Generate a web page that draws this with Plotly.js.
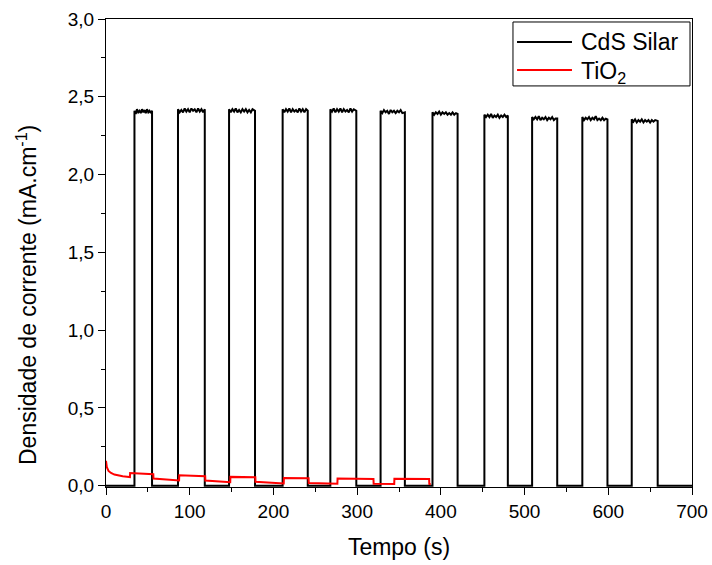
<!DOCTYPE html>
<html>
<head>
<meta charset="utf-8">
<script src="https://cdn.plot.ly/plotly-3.0.1.min.js"></script>
<style>html,body{margin:0;padding:0;background:#fff;}#chart{width:712px;height:565px;}</style>
</head>
<body>
<div id="chart"></div>
<script>
// CdS Silar photocurrent (time in s, current density)
const cdsTime = [
  0, 34, 34, 35.5, 37, 38.5, 40, 41.5, 43, 44.5, 46, 47.5, 49, 50.5, 52, 53.5, 55, 55,
  86, 86, 88, 90, 92, 94, 96, 98, 100, 102, 104, 106, 108, 110, 112, 114, 116, 118, 118,
  147, 147, 149, 151, 153, 155, 157, 159, 161, 163, 165, 167, 169, 171, 173, 175, 178, 178,
  211, 211, 213, 215, 217, 219, 221, 223, 225, 227, 229, 231, 233, 235, 237, 239, 241, 241,
  268, 268, 270, 272, 274, 276, 278, 280, 282, 284, 286, 288, 290, 292, 294, 296, 299, 299,
  328, 328, 330, 332, 334, 336, 338, 340, 342, 344, 346, 348, 350, 352, 354, 357, 357,
  390, 390, 392, 394, 396, 398, 400, 402, 404, 406, 408, 410, 412, 414, 416, 418, 420, 420,
  452, 452, 454, 456, 458, 460, 462, 464, 466, 468, 470, 472, 474, 476, 478, 480, 480,
  509, 509, 511, 513, 515, 517, 519, 521, 523, 525, 527, 529, 531, 533, 535, 537, 539, 539,
  569, 569, 571, 573, 575, 577, 579, 581, 583, 585, 587, 589, 591, 593, 595, 597, 599, 599,
  628, 628, 630, 632, 634, 636, 638, 640, 642, 644, 646, 648, 650, 652, 654, 656, 659, 659,
  700
];
const cdsCurrent = [
  0, 0, 2.41, 2.39, 2.42, 2.40, 2.41, 2.395, 2.42, 2.40, 2.415, 2.395, 2.42, 2.40, 2.41, 2.395, 2.41, 0,
  0, 2.42, 2.40, 2.415, 2.40, 2.425, 2.405, 2.42, 2.40, 2.425, 2.41, 2.42, 2.40, 2.425, 2.405, 2.42, 2.40, 2.42, 0,
  0, 2.42, 2.40, 2.42, 2.405, 2.425, 2.40, 2.415, 2.40, 2.42, 2.405, 2.42, 2.40, 2.415, 2.40, 2.42, 2.41, 0,
  0, 2.42, 2.40, 2.42, 2.405, 2.425, 2.40, 2.42, 2.405, 2.415, 2.40, 2.425, 2.405, 2.42, 2.40, 2.42, 2.41, 0,
  0, 2.42, 2.405, 2.425, 2.40, 2.42, 2.405, 2.425, 2.40, 2.42, 2.405, 2.415, 2.40, 2.425, 2.405, 2.42, 2.41, 0,
  0, 2.41, 2.395, 2.415, 2.40, 2.41, 2.39, 2.415, 2.40, 2.41, 2.395, 2.41, 2.40, 2.415, 2.395, 2.40, 0,
  0, 2.40, 2.385, 2.40, 2.39, 2.405, 2.385, 2.40, 2.39, 2.40, 2.385, 2.395, 2.385, 2.40, 2.385, 2.395, 2.39, 0,
  0, 2.385, 2.37, 2.385, 2.37, 2.39, 2.365, 2.38, 2.37, 2.385, 2.365, 2.38, 2.37, 2.385, 2.37, 2.38, 0,
  0, 2.37, 2.355, 2.37, 2.355, 2.375, 2.35, 2.365, 2.355, 2.37, 2.35, 2.365, 2.355, 2.37, 2.35, 2.36, 2.36, 0,
  0, 2.37, 2.35, 2.365, 2.355, 2.37, 2.35, 2.365, 2.355, 2.375, 2.35, 2.36, 2.35, 2.365, 2.35, 2.36, 2.355, 0,
  0, 2.355, 2.34, 2.355, 2.335, 2.35, 2.34, 2.355, 2.335, 2.35, 2.34, 2.35, 2.335, 2.35, 2.34, 2.35, 2.345, 0,
  0
];
// TiO2 photocurrent
const tioTime = [
  0, 1, 3, 6, 10, 15, 20, 25, 28.6,
  28.8, 40, 50, 56.5,
  56.7, 65, 75, 87.3,
  87.5, 100, 110, 118.5,
  118.7, 130, 140, 148.4,
  148.6, 160, 170, 178.4,
  178.6, 190, 200, 212.3,
  212.5, 225, 235, 242,
  242.2, 255, 265, 276.4,
  276.6, 290, 305, 319.5,
  319.7, 330, 344.3,
  344.5, 355, 370, 386,
  386.2, 388
];
const tioCurrent = [
  0.16, 0.12, 0.095, 0.082, 0.072, 0.065, 0.061, 0.058, 0.056,
  0.082, 0.079, 0.076, 0.074,
  0.046, 0.042, 0.038, 0.034,
  0.068, 0.066, 0.063, 0.061,
  0.034, 0.030, 0.026, 0.023,
  0.057, 0.056, 0.055, 0.054,
  0.026, 0.021, 0.018, 0.015,
  0.050, 0.049, 0.049, 0.048,
  0.018, 0.015, 0.014, 0.013,
  0.046, 0.046, 0.045, 0.044,
  0.013, 0.012, 0.012,
  0.045, 0.045, 0.044, 0.044,
  0.012, 0.010
];
const seriesNames = ['CdS Silar', 'TiO<sub>2</sub>'];
const seriesColors = ['#000000', '#ff0000'];
const xTicks = [0, 100, 200, 300, 400, 500, 600, 700];
const yTicks = [0, 0.5, 1.0, 1.5, 2.0, 2.5, 3.0];
const xTitle = 'Tempo (s)';
const yTitle = 'Densidade de corrente (mA.cm<sup>-1</sup>)';

const font = 'Liberation Sans, Arial, sans-serif';
const traces = [
  {x: cdsTime, y: cdsCurrent, name: seriesNames[0], type: 'scatter', mode: 'lines',
   line: {color: seriesColors[0], width: 2}},
  {x: tioTime, y: tioCurrent, name: seriesNames[1], type: 'scatter', mode: 'lines',
   line: {color: seriesColors[1], width: 2}}
];
const axisCommon = {
  showgrid: false, zeroline: false, showline: true, linecolor: '#000', linewidth: 1,
  mirror: true, ticks: 'outside', ticklen: 7, tickwidth: 1, tickcolor: '#000',
  tickfont: {family: font, size: 19, color: '#000'}
};
// legend box drawn in paper coordinates
const legRows = [0.951, 0.891];
const shapes = [
  {type: 'rect', xref: 'paper', yref: 'paper', x0: 0.6945, x1: 0.9966, y0: 0.857, y1: 0.9936,
   line: {color: '#000', width: 1}, fillcolor: '#fff', layer: 'above'}
];
const annotations = [
  {xref: 'paper', yref: 'paper', x: -0.135, y: 0.41, xanchor: 'center', yanchor: 'middle',
   textangle: -90, text: yTitle, showarrow: false, font: {family: font, size: 23, color: '#000'}}
];
seriesNames.forEach((n, i) => {
  shapes.push({type: 'line', xref: 'paper', yref: 'paper', x0: 0.7014, x1: 0.7952,
    y0: legRows[i], y1: legRows[i], line: {color: seriesColors[i], width: 2}, layer: 'above'});
  annotations.push({xref: 'paper', yref: 'paper', x: 0.807, y: legRows[i] + (i === 1 ? -0.006 : 0),
    xanchor: 'left', yanchor: 'middle', text: n, showarrow: false,
    font: {family: font, size: 23, color: '#000'}});
});
const layout = {
  width: 712, height: 565,
  margin: {l: 106, r: 20, t: 19, b: 78},
  paper_bgcolor: '#fff', plot_bgcolor: '#fff',
  separators: ',.',
  showlegend: false,
  shapes: shapes,
  annotations: annotations,
  xaxis: Object.assign({}, axisCommon, {
    range: [0, 700], tickvals: xTicks,
    minor: {dtick: 50, ticks: 'outside', ticklen: 4, tickcolor: '#000', tickwidth: 1, showgrid: false},
    title: {text: xTitle, font: {family: font, size: 23, color: '#000'}, standoff: 18}
  }),
  yaxis: Object.assign({}, axisCommon, {
    range: [-0.008, 3.0], tickvals: yTicks, tickformat: '.1f',
    minor: {dtick: 0.25, ticks: 'outside', ticklen: 4, tickcolor: '#000', tickwidth: 1, showgrid: false}
  })
};
Plotly.newPlot('chart', traces, layout, {displayModeBar: false, staticPlot: true});
</script>
</body>
</html>
